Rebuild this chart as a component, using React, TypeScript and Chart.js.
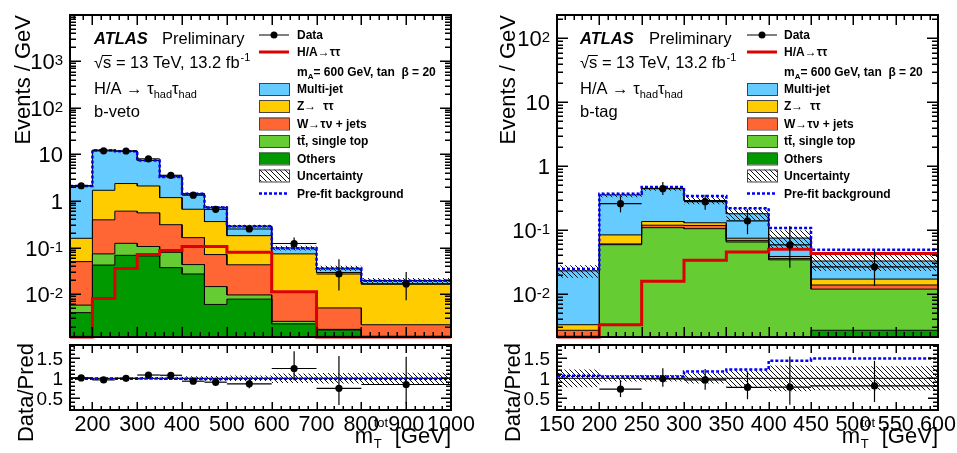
import React, { useEffect, useRef } from 'react';
import { Chart, registerables } from 'chart.js';

Chart.register(...registerables);

const FONT = '"Liberation Sans", Arial, Helvetica, sans-serif';
const W = 957;
const H = 453;

// ---------- b-veto category (events / GeV) ----------
const vetoEdges = [150, 200, 250, 300, 350, 400, 450, 500, 600, 700, 800, 1000];
const vetoOthers = [0.004, 0.042, 0.068, 0.066, 0.037, 0.027, 0.006, 0.0078, 0.0023, 0.0017, 0];
const vetoTop = [0.0018, 0.031, 0.055, 0.039, 0.042, 0.016, 0.0085, 0.0018, 0.0003, 0.00005, 0];
const vetoWjets = [0.044, 0.32, 0.48, 0.45, 0.23, 0.12, 0.056, 0.033, 0.0084, 0.0033, 0.0022];
const vetoZtt = [0.108, 1.3, 1.76, 1.54, 0.87, 0.5, 0.29, 0.137, 0.062, 0.024, 0.0142];
const vetoMultijet = [1.94, 10.7, 9.44, 5.3, 2.12, 0.77, 0.37, 0.11, 0.025, 0.0069, 0.0031];
const vetoUnc = [0.02, 0.02, 0.02, 0.03, 0.04, 0.05, 0.06, 0.07, 0.12, 0.13, 0.14];
const vetoPrefit = [2.08, 12.3, 11.7, 7.35, 3.27, 1.42, 0.72, 0.287, 0.097, 0.0356, 0.0193];
const vetoSignal = [0, 0.008, 0.0356, 0.071, 0.086, 0.105, 0.105, 0.079, 0.0113, 0, 0];
const vetoData = [2.12, 11.9, 11.8, 8.0, 3.55, 1.33, 0.66, 0.25, 0.122, 0.027, 0.0165];
const vetoDataErrUp = [0.06, 0.25, 0.24, 0.22, 0.13, 0.086, 0.073, 0.035, 0.042, 0.029, 0.0135];
const vetoDataErrDown = [0.06, 0.25, 0.24, 0.22, 0.13, 0.086, 0.07, 0.033, 0.029, 0.015, 0.0091];

// ---------- b-tag category (events / GeV) ----------
const tagEdges = [150, 200, 250, 300, 350, 400, 450, 600];
const tagOthers = [0.0004, 0.0015, 0.0015, 0.0015, 0.0015, 0.0015, 0.0027];
const tagTop = [0.0012, 0.0575, 0.1075, 0.1035, 0.0635, 0.0327, 0.0092];
const tagWjets = [0.0011, 0.0017, 0.01, 0.013, 0.004, 0.0018, 0.0019];
const tagZtt = [0.0006, 0.0233, 0.017, 0.012, 0.0055, 0.0026, 0.0033];
const tagMultijet = [0.0197, 0.271, 0.314, 0.16, 0.1055, 0.0364, 0.0157];
const tagUnc = [0.22, 0.08, 0.08, 0.13, 0.21, 0.32, 0.3];
const tagPrefit = [0.0245, 0.371, 0.471, 0.34, 0.219, 0.108, 0.049];
const tagSignal = [0, 0.0033, 0.0158, 0.0338, 0.0455, 0.05, 0.043];
const tagData = [null, 0.259, 0.444, 0.278, 0.139, 0.0586, 0.0266];
const tagDataErrUp = [0, 0.08, 0.12, 0.08, 0.072, 0.057, 0.0205];
const tagDataErrDown = [0, 0.07, 0.09, 0.07, 0.053, 0.033, 0.0132];

// ---------- tick labels ----------
const vetoYTicks = [0.01, 0.1, 1, 10, 100, 1000];
const tagYTicks = [0.01, 0.1, 1, 10, 100];
const ratioYTicks = [0.5, 1, 1.5];
const vetoXTicks = [200, 300, 400, 500, 600, 700, 800, 900, 1000];
const tagXTicks = [150, 200, 250, 300, 350, 400, 450, 500, 550, 600];

// ---------- colours ----------
const COL_MULTIJET = '#66ccff';
const COL_ZTT = '#ffcc00';
const COL_W = '#ff6633';
const COL_TOP = '#66cc33';
const COL_OTHERS = '#009900';
const COL_SIGNAL = '#dd0000';
const COL_PREFIT = '#0000ff';

// frame geometry
const MAIN_TOP = 15;
const MAIN_BOTTOM = 337;
const RATIO_TOP = 345;
const RATIO_BOTTOM = 410;
const RATIO_MIN = 0.21;
const RATIO_MAX = 1.83;

type Panel = {
  edges: number[];
  stack: { vals: number[]; color: string }[];
  unc: number[];
  prefit: number[];
  signal: number[];
  data: (number | null)[];
  errUp: number[];
  errDown: number[];
  xMin: number;
  xMax: number;
  yMin: number;
  yMax: number;
  xMajor: number;
  xMinor: number;
  yTicks: number[];
  xTicks: number[];
  left: number;
  right: number;
  category: string;
  textX: number;
  prelimX: number;
  legendX: number;
  legendTextX: number;
  yTitleX: number;
  ratioTitleX: number;
};

const vetoPanel: Panel = {
  edges: vetoEdges,
  stack: [
    { vals: vetoOthers, color: COL_OTHERS },
    { vals: vetoTop, color: COL_TOP },
    { vals: vetoWjets, color: COL_W },
    { vals: vetoZtt, color: COL_ZTT },
    { vals: vetoMultijet, color: COL_MULTIJET },
  ],
  unc: vetoUnc,
  prefit: vetoPrefit,
  signal: vetoSignal,
  data: vetoData,
  errUp: vetoDataErrUp,
  errDown: vetoDataErrDown,
  xMin: 150,
  xMax: 1000,
  yMin: 0.0012,
  yMax: 9800,
  xMajor: 100,
  xMinor: 20,
  yTicks: vetoYTicks,
  xTicks: vetoXTicks,
  left: 70,
  right: 451,
  category: 'b-veto',
  textX: 94,
  prelimX: 162,
  legendX: 259,
  legendTextX: 297,
  yTitleX: 30,
  ratioTitleX: 33,
};

const tagPanel: Panel = {
  edges: tagEdges,
  stack: [
    { vals: tagOthers, color: COL_OTHERS },
    { vals: tagTop, color: COL_TOP },
    { vals: tagWjets, color: COL_W },
    { vals: tagZtt, color: COL_ZTT },
    { vals: tagMultijet, color: COL_MULTIJET },
  ],
  unc: tagUnc,
  prefit: tagPrefit,
  signal: tagSignal,
  data: tagData,
  errUp: tagDataErrUp,
  errDown: tagDataErrDown,
  xMin: 150,
  xMax: 600,
  yMin: 0.00212,
  yMax: 232,
  xMajor: 50,
  xMinor: 10,
  yTicks: tagYTicks,
  xTicks: tagXTicks,
  left: 557,
  right: 938,
  category: 'b-tag',
  textX: 580,
  prelimX: 649,
  legendX: 747,
  legendTextX: 784,
  yTitleX: 515,
  ratioTitleX: 520,
};

// ---------- helpers ----------
function steps(edges: number[], vals: number[]) {
  const pts: { x: number; y: number }[] = [];
  for (let i = 0; i < vals.length; i++) {
    pts.push({ x: edges[i], y: vals[i] });
    pts.push({ x: edges[i + 1], y: vals[i] });
  }
  return pts;
}

function cumulative(layers: number[][]) {
  const out: number[][] = [];
  let run = layers[0].map(() => 0);
  for (const l of layers) {
    run = run.map((r, i) => r + l[i]);
    out.push(run);
  }
  return out;
}

function totals(p: Panel) {
  const tops = cumulative(p.stack.map((s) => s.vals));
  return { tops, total: tops[tops.length - 1] };
}

function makeHatch(): CanvasPattern | string {
  const s = 5;
  const tile = document.createElement('canvas');
  tile.width = s;
  tile.height = s;
  const g = tile.getContext('2d');
  if (!g) return 'rgba(0,0,0,0.3)';
  g.strokeStyle = '#111';
  g.lineWidth = 1;
  g.beginPath();
  g.moveTo(0, 0);
  g.lineTo(s, s);
  g.moveTo(-1, s - 1);
  g.lineTo(1, s + 1);
  g.moveTo(s - 1, -1);
  g.lineTo(s + 1, 1);
  g.stroke();
  const pat = g.createPattern(tile, 'repeat');
  return pat || 'rgba(0,0,0,0.3)';
}

function txt(
  ctx: CanvasRenderingContext2D,
  s: string,
  x: number,
  y: number,
  font: string,
  align: CanvasTextAlign = 'left',
  color = '#000'
) {
  ctx.font = font;
  ctx.textAlign = align;
  ctx.textBaseline = 'alphabetic';
  ctx.fillStyle = color;
  ctx.fillText(s, x, y);
  return ctx.measureText(s).width;
}

function measure(ctx: CanvasRenderingContext2D, s: string, font: string) {
  ctx.font = font;
  return ctx.measureText(s).width;
}

function seg(ctx: CanvasRenderingContext2D, x1: number, y1: number, x2: number, y2: number) {
  ctx.beginPath();
  ctx.moveTo(x1, y1);
  ctx.lineTo(x2, y2);
  ctx.stroke();
}

function drawXTicks(ctx: CanvasRenderingContext2D, chart: any, p: Panel, majorLen: number, minorLen: number) {
  const a = chart.chartArea;
  const xs = chart.scales.x;
  const k0 = Math.ceil(p.xMin / p.xMinor);
  const k1 = Math.floor(p.xMax / p.xMinor);
  for (let k = k0; k <= k1; k++) {
    const v = k * p.xMinor;
    const len = v % p.xMajor === 0 ? majorLen : minorLen;
    const x = Math.round(xs.getPixelForValue(v)) + 0.25;
    seg(ctx, x, a.bottom, x, a.bottom - len);
    seg(ctx, x, a.top, x, a.top + len);
  }
}

function drawFrame(ctx: CanvasRenderingContext2D, a: any) {
  ctx.lineWidth = 2;
  ctx.strokeStyle = '#000';
  ctx.strokeRect(a.left, a.top, a.right - a.left, a.bottom - a.top);
}

function drawYTitle(ctx: CanvasRenderingContext2D, s: string, x: number, yEnd: number) {
  ctx.save();
  ctx.translate(x, yEnd);
  ctx.rotate(-Math.PI / 2);
  txt(ctx, s, 0, 0, `22px ${FONT}`, 'right');
  ctx.restore();
}

function drawErrors(chart: any, errs: any[]) {
  const { ctx, chartArea: a } = chart;
  const xs = chart.scales.x;
  const ys = chart.scales.y;
  ctx.save();
  ctx.beginPath();
  ctx.rect(a.left, a.top, a.right - a.left, a.bottom - a.top);
  ctx.clip();
  ctx.strokeStyle = '#000';
  ctx.lineWidth = 1.2;
  for (const e of errs) {
    const x = xs.getPixelForValue(e.c);
    const y = ys.getPixelForValue(e.v);
    seg(ctx, xs.getPixelForValue(e.lo), y, xs.getPixelForValue(e.hi), y);
    const lowV = Math.max(e.v - e.dn, 1e-9);
    seg(ctx, x, ys.getPixelForValue(e.v + e.up), x, ys.getPixelForValue(lowV));
  }
  ctx.restore();
}

function legendBox(ctx: CanvasRenderingContext2D, x: number, cy: number, fill: any) {
  ctx.fillStyle = '#fff';
  ctx.fillRect(x, cy - 6, 30, 12);
  ctx.fillStyle = fill;
  ctx.fillRect(x, cy - 6, 30, 12);
  ctx.strokeStyle = '#444';
  ctx.lineWidth = 1;
  ctx.strokeRect(x + 0.5, cy - 5.5, 30, 12);
}

function drawLegend(ctx: CanvasRenderingContext2D, p: Panel, hatch: any) {
  const sx = p.legendX;
  const tx = p.legendTextX;
  const fb = `bold 12px ${FONT}`;
  const fbSub = `bold 8px ${FONT}`;
  const lab = (s: string, cy: number) => txt(ctx, s, tx, cy + 4.3, fb);

  // data
  ctx.strokeStyle = '#000';
  ctx.lineWidth = 1;
  seg(ctx, sx, 35, sx + 30, 35);
  ctx.fillStyle = '#000';
  ctx.beginPath();
  ctx.arc(sx + 15, 35, 3.5, 0, Math.PI * 2);
  ctx.fill();
  lab('Data', 35);

  // signal
  ctx.strokeStyle = COL_SIGNAL;
  ctx.lineWidth = 3;
  seg(ctx, sx, 52, sx + 30, 52);
  lab('H/A→ττ', 52);

  // signal parameters
  let x = tx;
  x += txt(ctx, 'm', x, 75.8, fb);
  x += txt(ctx, 'A', x, 78.5, fbSub);
  txt(ctx, '= 600 GeV, tan  β = 20', x, 75.8, fb);

  legendBox(ctx, sx, 89, COL_MULTIJET);
  lab('Multi-jet', 89);
  legendBox(ctx, sx, 106, COL_ZTT);
  lab('Z→  ττ', 106);
  legendBox(ctx, sx, 123.5, COL_W);
  lab('W→τν + jets', 123.5);
  legendBox(ctx, sx, 141, COL_TOP);
  const wt = measure(ctx, 't', fb);
  txt(ctx, 'tt, single top', tx, 145.3, fb);
  ctx.strokeStyle = '#000';
  ctx.lineWidth = 1;
  seg(ctx, tx + wt + 0.5, 135.5, tx + 2 * wt, 135.5);
  legendBox(ctx, sx, 158.5, COL_OTHERS);
  lab('Others', 158.5);
  legendBox(ctx, sx, 175.5, hatch);
  lab('Uncertainty', 175.5);

  ctx.strokeStyle = COL_PREFIT;
  ctx.lineWidth = 2.5;
  ctx.setLineDash([3, 2]);
  seg(ctx, sx, 193.5, sx + 30, 193.5);
  ctx.setLineDash([]);
  lab('Pre-fit background', 193.5);
}

function drawPanelText(ctx: CanvasRenderingContext2D, p: Panel) {
  const f = `16.5px ${FONT}`;
  const fs = `11px ${FONT}`;
  const X = p.textX;
  txt(ctx, 'ATLAS', X, 44, `italic bold 16.5px ${FONT}`);
  txt(ctx, 'Preliminary', p.prelimX, 44, f);

  const wRad = measure(ctx, '√', f);
  const wRadS = measure(ctx, '√s', f);
  const wLine = txt(ctx, '√s = 13 TeV, 13.2 fb', X, 68, f);
  ctx.strokeStyle = '#000';
  ctx.lineWidth = 1;
  seg(ctx, X + wRad - 1, 55.5, X + wRadS + 0.5, 55.5);
  txt(ctx, '-1', X + wLine + 1, 61, fs);

  let x = X;
  x += txt(ctx, 'H/A → τ', x, 94, f);
  x += txt(ctx, 'had', x, 98, fs);
  x += txt(ctx, 'τ', x, 94, f);
  txt(ctx, 'had', x, 98, fs);

  txt(ctx, p.category, X, 116.5, f);
}

function logLabel(v: number) {
  const e = Math.round(Math.log10(v));
  if (e === 0) return { base: '1', sup: '' };
  if (e === 1) return { base: '10', sup: '' };
  return { base: '10', sup: String(e) };
}

// ---------- main (upper) pad ----------
function mainConfig(p: Panel, hatch: any): any {
  const { tops, total } = totals(p);
  const floor = (arr: number[]) => arr.map((v) => Math.max(v, p.yMin));
  const datasets: any[] = [];
  p.stack.forEach((s, i) =>
    datasets.push({
      data: steps(p.edges, floor(tops[i])),
      borderColor: '#000',
      borderWidth: 1,
      backgroundColor: s.color,
      fill: i === 0 ? 'start' : '-1',
      pointRadius: 0,
      order: 40 - i,
    })
  );
  datasets.push({
    data: steps(p.edges, floor(total.map((t, i) => t * (1 - p.unc[i])))),
    borderColor: 'rgba(0,0,0,0)',
    borderWidth: 0,
    pointRadius: 0,
    fill: false,
    order: 30,
  });
  datasets.push({
    data: steps(p.edges, floor(total.map((t, i) => t * (1 + p.unc[i])))),
    borderColor: 'rgba(0,0,0,0)',
    borderWidth: 0,
    backgroundColor: hatch,
    pointRadius: 0,
    fill: '-1',
    order: 29,
  });
  datasets.push({
    data: steps(p.edges, floor(p.prefit)),
    borderColor: COL_PREFIT,
    borderWidth: 2.5,
    borderDash: [3, 2],
    pointRadius: 0,
    fill: false,
    order: 28,
  });
  datasets.push({
    data: steps(p.edges, floor(p.signal)),
    borderColor: COL_SIGNAL,
    borderWidth: 3,
    pointRadius: 0,
    fill: false,
    order: 27,
    clip: { left: 0, top: 0, right: 0, bottom: 3 },
  });
  const pts: any[] = [];
  const errs: any[] = [];
  p.data.forEach((v, i) => {
    if (v == null) return;
    const c = (p.edges[i] + p.edges[i + 1]) / 2;
    pts.push({ x: c, y: v });
    errs.push({ lo: p.edges[i], hi: p.edges[i + 1], c, v, up: p.errUp[i], dn: p.errDown[i] });
  });
  const dataIndex = datasets.length;
  datasets.push({
    data: pts,
    showLine: false,
    pointRadius: 3.6,
    pointHoverRadius: 3.6,
    pointBackgroundColor: '#000',
    pointBorderColor: '#000',
    pointBorderWidth: 0,
    fill: false,
    order: 1,
  });

  return {
    type: 'line',
    data: { datasets },
    options: {
      animation: false,
      responsive: false,
      devicePixelRatio: 1,
      events: [],
      layout: { padding: { left: p.left, right: W - p.right, top: MAIN_TOP, bottom: H - MAIN_BOTTOM } },
      plugins: {
        legend: { display: false },
        tooltip: { enabled: false },
        filler: { drawTime: 'beforeDatasetsDraw', propagate: false },
      },
      elements: { line: { tension: 0, borderCapStyle: 'butt', borderJoinStyle: 'miter' } },
      scales: {
        x: { type: 'linear', min: p.xMin, max: p.xMax, display: false, bounds: 'data' },
        y: { type: 'logarithmic', min: p.yMin, max: p.yMax, display: false, bounds: 'data' },
      },
    },
    plugins: [
      {
        id: 'mainPad',
        beforeDatasetDraw(chart: any, args: any) {
          if (args.index === dataIndex) drawErrors(chart, errs);
        },
        afterDraw(chart: any) {
          const ctx: CanvasRenderingContext2D = chart.ctx;
          const a = chart.chartArea;
          const ys = chart.scales.y;
          ctx.save();
          ctx.strokeStyle = '#000';
          ctx.lineWidth = 1.5;
          drawXTicks(ctx, chart, p, 10, 5);
          const d0 = Math.floor(Math.log10(p.yMin));
          const d1 = Math.ceil(Math.log10(p.yMax));
          for (let d = d0; d <= d1; d++) {
            for (let k = 1; k <= 9; k++) {
              const v = k * Math.pow(10, d);
              if (v < p.yMin || v > p.yMax) continue;
              const y = Math.round(ys.getPixelForValue(v)) + 0.25;
              const len = k === 1 ? 11 : 6;
              seg(ctx, a.left, y, a.left + len, y);
              seg(ctx, a.right, y, a.right - len, y);
            }
          }
          drawFrame(ctx, a);

          // y tick labels
          const fMain = `22px ${FONT}`;
          const fSup = `15px ${FONT}`;
          for (const v of p.yTicks) {
            const y = ys.getPixelForValue(v);
            const { base, sup } = logLabel(v);
            const wb = measure(ctx, base, fMain);
            const ws = sup ? measure(ctx, sup, fSup) : 0;
            const xr = a.left - 7;
            txt(ctx, base, xr - ws - wb, y + 8, fMain);
            if (sup) txt(ctx, sup, xr - ws, y + 4, fSup);
          }
          drawYTitle(ctx, 'Events / GeV', p.yTitleX, 15);
          drawPanelText(ctx, p);
          drawLegend(ctx, p, hatch);
          ctx.restore();
        },
      },
    ],
  };
}

// ---------- ratio (lower) pad ----------
function ratioConfig(p: Panel, hatch: any): any {
  const { total } = totals(p);
  const datasets: any[] = [];
  datasets.push({
    data: steps(p.edges, p.unc.map((u) => 1 - u)),
    borderColor: 'rgba(0,0,0,0)',
    borderWidth: 0,
    pointRadius: 0,
    fill: false,
    order: 30,
  });
  datasets.push({
    data: steps(p.edges, p.unc.map((u) => 1 + u)),
    borderColor: 'rgba(0,0,0,0)',
    borderWidth: 0,
    backgroundColor: hatch,
    pointRadius: 0,
    fill: '-1',
    order: 29,
  });
  datasets.push({
    data: [
      { x: p.xMin, y: 1 },
      { x: p.xMax, y: 1 },
    ],
    borderColor: '#000',
    borderWidth: 1,
    pointRadius: 0,
    fill: false,
    order: 28,
  });
  datasets.push({
    data: steps(p.edges, p.prefit.map((v, i) => v / total[i])),
    borderColor: COL_PREFIT,
    borderWidth: 2.5,
    borderDash: [3, 2],
    pointRadius: 0,
    fill: false,
    order: 27,
  });
  const pts: any[] = [];
  const errs: any[] = [];
  p.data.forEach((v, i) => {
    if (v == null) return;
    const c = (p.edges[i] + p.edges[i + 1]) / 2;
    const r = v / total[i];
    pts.push({ x: c, y: r });
    errs.push({
      lo: p.edges[i],
      hi: p.edges[i + 1],
      c,
      v: r,
      up: p.errUp[i] / total[i],
      dn: p.errDown[i] / total[i],
    });
  });
  const dataIndex = datasets.length;
  datasets.push({
    data: pts,
    showLine: false,
    pointRadius: 3.6,
    pointHoverRadius: 3.6,
    pointBackgroundColor: '#000',
    pointBorderColor: '#000',
    pointBorderWidth: 0,
    fill: false,
    order: 1,
  });

  return {
    type: 'line',
    data: { datasets },
    options: {
      animation: false,
      responsive: false,
      devicePixelRatio: 1,
      events: [],
      layout: { padding: { left: p.left, right: W - p.right, top: RATIO_TOP, bottom: H - RATIO_BOTTOM } },
      plugins: {
        legend: { display: false },
        tooltip: { enabled: false },
        filler: { drawTime: 'beforeDatasetsDraw', propagate: false },
      },
      elements: { line: { tension: 0, borderCapStyle: 'butt', borderJoinStyle: 'miter' } },
      scales: {
        x: { type: 'linear', min: p.xMin, max: p.xMax, display: false, bounds: 'data' },
        y: { type: 'linear', min: RATIO_MIN, max: RATIO_MAX, display: false, bounds: 'data' },
      },
    },
    plugins: [
      {
        id: 'ratioPad',
        beforeDatasetDraw(chart: any, args: any) {
          if (args.index === dataIndex) drawErrors(chart, errs);
        },
        afterDraw(chart: any) {
          const ctx: CanvasRenderingContext2D = chart.ctx;
          const a = chart.chartArea;
          const xs = chart.scales.x;
          const ys = chart.scales.y;
          ctx.save();
          ctx.strokeStyle = '#000';
          ctx.lineWidth = 1.5;
          drawXTicks(ctx, chart, p, 8, 4);
          const k0 = Math.ceil(RATIO_MIN * 10);
          const k1 = Math.floor(RATIO_MAX * 10);
          for (let k = k0; k <= k1; k++) {
            const y = Math.round(ys.getPixelForValue(k / 10)) + 0.25;
            const len = k % 5 === 0 ? 10 : 5;
            seg(ctx, a.left, y, a.left + len, y);
            seg(ctx, a.right, y, a.right - len, y);
          }
          drawFrame(ctx, a);

          const fY = `19px ${FONT}`;
          for (const v of ratioYTicks) {
            txt(ctx, String(v), a.left - 7, ys.getPixelForValue(v) + 7, fY, 'right');
          }
          const fX = `21.5px ${FONT}`;
          for (const v of p.xTicks) {
            txt(ctx, String(v), xs.getPixelForValue(v), 431, fX, 'center');
          }

          // axis title m_T^tot [GeV], right-aligned to the frame
          const fMain = `22px ${FONT}`;
          const fSmall = `13px ${FONT}`;
          const wM = measure(ctx, 'm', fMain);
          const wSub = Math.max(measure(ctx, 'T', fSmall), measure(ctx, 'tot', fSmall));
          const wG = measure(ctx, ' [GeV]', fMain);
          let x = a.right - (wM + wSub + 1 + wG);
          txt(ctx, 'm', x, 443, fMain);
          x += wM;
          txt(ctx, 'tot', x + 0.5, 427, fSmall);
          txt(ctx, 'T', x + 0.5, 448, fSmall);
          x += wSub + 1;
          txt(ctx, ' [GeV]', x, 443, fMain);

          drawYTitle(ctx, 'Data/Pred', p.ratioTitleX, 343);
          ctx.restore();
        },
      },
    ],
  };
}

export default function App() {
  const mainVeto = useRef<HTMLCanvasElement>(null);
  const ratioVeto = useRef<HTMLCanvasElement>(null);
  const mainTag = useRef<HTMLCanvasElement>(null);
  const ratioTag = useRef<HTMLCanvasElement>(null);

  useEffect(() => {
    const hatch = makeHatch();
    const charts: Chart[] = [];
    if (mainVeto.current) charts.push(new Chart(mainVeto.current, mainConfig(vetoPanel, hatch)));
    if (ratioVeto.current) charts.push(new Chart(ratioVeto.current, ratioConfig(vetoPanel, hatch)));
    if (mainTag.current) charts.push(new Chart(mainTag.current, mainConfig(tagPanel, hatch)));
    if (ratioTag.current) charts.push(new Chart(ratioTag.current, ratioConfig(tagPanel, hatch)));
    return () => charts.forEach((c) => c.destroy());
  }, []);

  const cs: React.CSSProperties = { position: 'absolute', left: 0, top: 0 };
  return (
    <div style={{ position: 'fixed', left: 0, top: 0, width: W, height: H, background: '#fff', overflow: 'hidden' }}>
      <canvas ref={mainVeto} width={W} height={H} style={cs} />
      <canvas ref={ratioVeto} width={W} height={H} style={cs} />
      <canvas ref={mainTag} width={W} height={H} style={cs} />
      <canvas ref={ratioTag} width={W} height={H} style={cs} />
    </div>
  );
}
